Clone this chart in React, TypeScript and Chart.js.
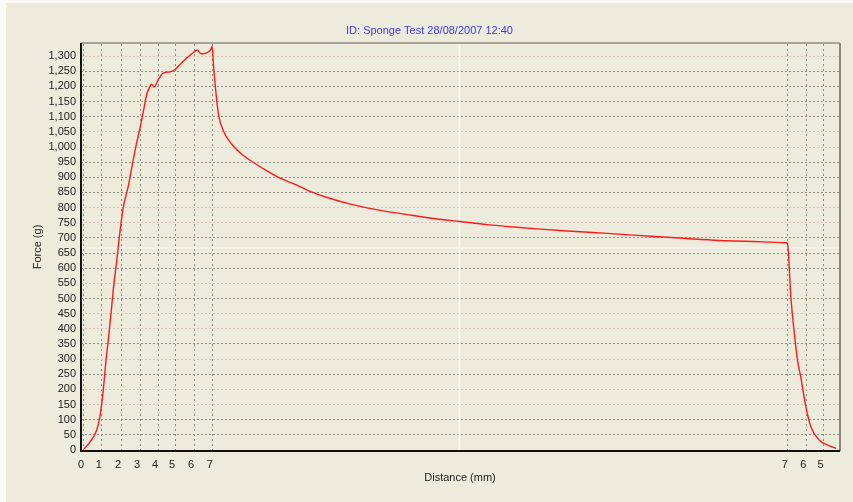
import React, { useEffect, useRef } from 'react';
import { Chart, registerables } from 'chart.js';

Chart.register(...registerables);

const TITLE = 'ID: Sponge Test 28/08/2007 12:40';
const X_TITLE = 'Distance (mm)';
const Y_TITLE = 'Force (g)';

// elapsed time (s) and force (g)
const timeS = [
  0, 0.32, 0.69, 0.86, 1.04, 1.19, 1.31, 1.46, 1.58, 1.77, 1.95, 2.12, 2.39, 2.58, 2.85,
  3.03, 3.21, 3.39, 3.57, 3.66, 3.78, 4.02, 4.29, 4.65, 4.92, 5.28, 5.55, 5.91, 6.12,
  6.31, 6.63, 6.85, 6.92, 6.99, 7.08, 7.26, 7.53, 7.98, 8.52, 9.15, 9.88, 10.59, 11.5,
  12.04, 13.3, 14.56, 16.0, 17.44, 18.88, 20.32, 21.77, 23.2, 24.65, 26.09, 28.25,
  31.5, 35.1, 37.9, 37.98, 38.16, 38.39, 38.52, 38.7, 38.97, 39.24, 39.69, 40.15, 40.6,
];
const forceG = [
  3, 26, 66, 109, 197, 296, 362, 450, 527, 625, 724, 800, 870, 932, 1015,
  1064, 1119, 1174, 1201, 1207, 1198, 1223, 1245, 1248, 1256, 1278, 1294, 1312, 1320,
  1308, 1311, 1322, 1333, 1273, 1207, 1108, 1053, 1009, 976, 949, 921, 897, 874,
  858, 830, 809, 791, 777, 764, 754, 744, 736, 729, 723, 715,
  702, 690, 684, 681, 505, 362, 296, 240, 143, 77, 33, 16, 5,
];

// distance tick labels placed at the times they occur
const distTickTimes = [0, 0.97, 2.0, 3.03, 4.0, 4.92, 5.95, 6.95, 38.0, 39.0, 39.93];
const distTickLabels = ['0', '1', '2', '3', '4', '5', '6', '7', '7', '6', '5'];

const X_MIN = -0.16;
const X_MAX = 40.76;
const Y_MIN = 0;
const Y_MAX = 1340;
const Y_STEP = 50;

const cursorTime = 20.27;
const cursorForce = 667;
const faintGridForces = [1300, 1050, 1000, 800, 750, 550, 450, 400, 300, 200, 150];

const BG = '#edebdc';
const FONT = "'Liberation Sans Narrow', 'Arial Narrow', 'Liberation Sans', Arial, sans-serif";

const framePlugin = {
  id: 'frame',
  beforeDraw(chart: any) {
    const { ctx, width, height } = chart;
    ctx.save();
    ctx.fillStyle = '#fafaf6';
    ctx.fillRect(0, 0, width, height);
    ctx.fillStyle = BG;
    ctx.fillRect(6, 3, width - 6, height - 3);
    ctx.restore();
  },
  beforeDatasetsDraw(chart: any) {
    const { ctx, chartArea: a, scales } = chart;
    const x = scales.x.getPixelForValue(cursorTime);
    const y = scales.y.getPixelForValue(cursorForce);
    ctx.save();
    ctx.strokeStyle = '#fdf8f0';
    ctx.lineWidth = 1.5;
    ctx.beginPath();
    ctx.moveTo(x, a.top);
    ctx.lineTo(x, a.bottom);
    ctx.stroke();
    ctx.lineWidth = 2;
    ctx.strokeStyle = '#f8efe8';
    ctx.beginPath();
    ctx.moveTo(a.left, y);
    ctx.lineTo(a.right, y);
    ctx.stroke();
    ctx.restore();
  },
  afterDraw(chart: any) {
    const { ctx, chartArea: a, width } = chart;
    ctx.save();
    ctx.lineWidth = 2;
    ctx.strokeStyle = '#a8a698';
    ctx.beginPath();
    ctx.moveTo(a.left, a.top - 1);
    ctx.lineTo(a.right + 1, a.top - 1);
    ctx.stroke();
    ctx.strokeStyle = '#8c8a80';
    ctx.beginPath();
    ctx.moveTo(a.right + 1, a.top - 1);
    ctx.lineTo(a.right + 1, a.bottom + 1);
    ctx.stroke();
    ctx.strokeStyle = '#111111';
    ctx.beginPath();
    ctx.moveTo(a.left, a.top - 1);
    ctx.lineTo(a.left, a.bottom + 1);
    ctx.lineTo(a.right + 1, a.bottom + 1);
    ctx.stroke();
    ctx.font = `11px ${FONT}`;
    ctx.textAlign = 'center';
    ctx.textBaseline = 'middle';
    ctx.fillStyle = '#3a3af0';
    ctx.fillText(TITLE, width / 2 + 3, 31);
    ctx.fillStyle = '#222222';
    ctx.fillText(X_TITLE, (a.left + a.right) / 2, 478);
    ctx.translate(38, (a.top + a.bottom) / 2);
    ctx.rotate(-Math.PI / 2);
    ctx.fillText(Y_TITLE, 0, 0);
    ctx.restore();
  },
};

export default function App() {
  const ref = useRef<HTMLCanvasElement | null>(null);

  useEffect(() => {
    document.body.style.margin = '0';
    const canvas = ref.current;
    if (!canvas) return;
    Chart.defaults.font.family = FONT;
    Chart.defaults.font.size = 11;
    Chart.defaults.color = '#222222';

    const chart = new Chart(canvas, {
      type: 'line',
      data: {
        datasets: [
          {
            data: timeS.map((t, i) => ({ x: t, y: forceG[i] })),
            borderColor: '#ff1a1a',
            borderWidth: 1.4,
            pointRadius: 0,
            cubicInterpolationMode: 'monotone',
            fill: false,
          },
        ],
      },
      options: {
        animation: false,
        responsive: false,
        maintainAspectRatio: false,
        layout: { padding: { left: 0, top: 44, right: 14, bottom: 0 } },
        plugins: {
          legend: { display: false },
          title: { display: false },
          tooltip: { enabled: false },
        },
        scales: {
          x: {
            type: 'linear',
            min: X_MIN,
            max: X_MAX,
            afterBuildTicks: (scale: any) => {
              scale.ticks = distTickTimes.map((v) => ({ value: v }));
            },
            afterFit: (scale: any) => {
              scale.height = 52;
            },
            ticks: {
              autoSkip: false,
              maxRotation: 0,
              padding: 8,
              labelOffset: -3,
              color: '#222222',
              callback: (_v: any, i: number) => distTickLabels[i],
            },
            grid: {
              drawTicks: false,
              color: '#8e8c84',
              lineWidth: 1,
            },
            border: { display: false, dash: [2, 3] },
          },
          y: {
            type: 'linear',
            min: Y_MIN,
            max: Y_MAX,
            afterFit: (scale: any) => {
              scale.width = 81;
            },
            ticks: {
              stepSize: Y_STEP,
              autoSkip: false,
              includeBounds: false,
              padding: 5,
              color: '#222222',
              callback: (v: any) => Number(v).toLocaleString('en-US'),
            },
            grid: {
              drawTicks: false,
              lineWidth: 1,
              color: (c: any) =>
                faintGridForces.includes(c.tick?.value) ? '#d8c4bc' : '#8e8c84',
            },
            border: { display: false, dash: [2, 2] },
          },
        },
      },
      plugins: [framePlugin],
    });
    return () => chart.destroy();
  }, []);

  return (
    <div style={{ width: 853, height: 502 }}>
      <canvas ref={ref} width={853} height={502} style={{ display: 'block' }} />
    </div>
  );
}
